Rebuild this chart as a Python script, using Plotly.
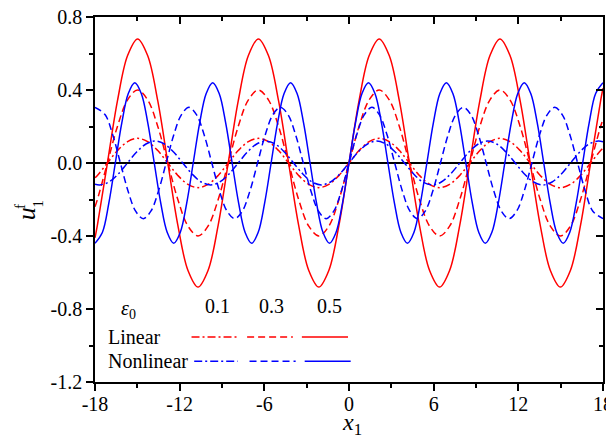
import plotly.graph_objects as go

# ---------------- data ----------------
# Linear solution (red); same abscissae for the three amplitudes
x_lin = [-18, -17.83, -17.12, -16.41, -15.69, -14.98, -14.27, -13.55, -12.84, -12.13,
         -11.41, -10.70, -9.99, -9.27, -8.56, -7.85, -7.13, -6.42, -5.71, -4.99, -4.28,
         -3.57, -2.85, -2.14, -1.43, -0.71, 0, 0.71, 1.43, 2.14, 2.85, 3.57, 4.28, 4.99,
         5.71, 6.42, 7.13, 7.85, 8.56, 9.27, 9.99, 10.70, 11.41, 12.13, 12.84, 13.55,
         14.27, 14.98, 15.69, 16.41, 17.12, 17.83, 18]
lin_05 = [-0.41,
          -0.34, 0, 0.34, 0.589, 0.68, 0.589, 0.34, 0, -0.34, -0.589, -0.68, -0.589,
          -0.34, 0, 0.34, 0.589, 0.68, 0.589, 0.34, 0, -0.34, -0.589, -0.68, -0.589,
          -0.34, 0, 0.34, 0.589, 0.68, 0.589, 0.34, 0, -0.34, -0.589, -0.68, -0.589,
          -0.34, 0, 0.34, 0.589, 0.68, 0.589, 0.34, 0, -0.34, -0.589, -0.68, -0.589,
          -0.34, 0, 0.34, 0.41]
lin_03 = [-0.24,
          -0.20, 0, 0.20, 0.346, 0.40, 0.346, 0.20, 0, -0.20, -0.346, -0.40, -0.346,
          -0.20, 0, 0.20, 0.346, 0.40, 0.346, 0.20, 0, -0.20, -0.346, -0.40, -0.346,
          -0.20, 0, 0.20, 0.346, 0.40, 0.346, 0.20, 0, -0.20, -0.346, -0.40, -0.346,
          -0.20, 0, 0.20, 0.346, 0.40, 0.346, 0.20, 0, -0.20, -0.346, -0.40, -0.346,
          -0.20, 0, 0.20, 0.24]
lin_01 = [-0.081,
          -0.068, 0, 0.068, 0.117, 0.135, 0.117, 0.068, 0, -0.068, -0.117, -0.135, -0.117,
          -0.068, 0, 0.068, 0.117, 0.135, 0.117, 0.068, 0, -0.068, -0.117, -0.135, -0.117,
          -0.068, 0, 0.068, 0.117, 0.135, 0.117, 0.068, 0, -0.068, -0.117, -0.135, -0.117,
          -0.068, 0, 0.068, 0.117, 0.135, 0.117, 0.068, 0, -0.068, -0.117, -0.135, -0.117,
          -0.068, 0, 0.068, 0.081]

# Nonlinear solution (blue), eps0 = 0.5
x_nl05 = [-18, -17.48, -17.02, -16.56, -16.10, -15.64, -15.18, -14.72, -14.26, -13.80,
          -13.34, -12.88, -12.42, -11.96, -11.50, -11.04, -10.58, -10.12, -9.66, -9.20,
          -8.74, -8.28, -7.82, -7.36, -6.90, -6.44, -5.98, -5.52, -5.06, -4.60, -4.14,
          -3.68, -3.22, -2.76, -2.30, -1.84, -1.38, -0.92, -0.46, 0, 0.46, 0.92, 1.38,
          1.84, 2.30, 2.76, 3.22, 3.68, 4.14, 4.60, 5.06, 5.52, 5.98, 6.44, 6.90, 7.36,
          7.82, 8.28, 8.74, 9.20, 9.66, 10.12, 10.58, 11.04, 11.50, 11.96, 12.42, 12.88,
          13.34, 13.80, 14.26, 14.72, 15.18, 15.64, 16.10, 16.56, 17.02, 17.48, 18]
nl_05 = [-0.44, -0.381, -0.22, 0, 0.22, 0.381, 0.44, 0.381, 0.22, 0, -0.22, -0.381,
         -0.44, -0.381, -0.22, 0, 0.22, 0.381, 0.44, 0.381, 0.22, 0, -0.22, -0.381,
         -0.44, -0.381, -0.22, 0, 0.22, 0.381, 0.44, 0.381, 0.22, 0, -0.22, -0.381,
         -0.44, -0.381, -0.22, 0, 0.22, 0.381, 0.44, 0.381, 0.22, 0, -0.22, -0.381,
         -0.44, -0.381, -0.22, 0, 0.22, 0.381, 0.44, 0.381, 0.22, 0, -0.22, -0.381,
         -0.44, -0.381, -0.22, 0, 0.22, 0.381, 0.44, 0.381, 0.22, 0, -0.22, -0.381,
         -0.44, -0.381, -0.22, 0, 0.22, 0.381, 0.44]

# Nonlinear, eps0 = 0.3
x_nl03 = [-18, -17.28, -16.74, -16.20, -15.66, -15.12, -14.58, -14.04, -13.50, -12.96,
          -12.42, -11.88, -11.34, -10.80, -10.26, -9.72, -9.18, -8.64, -8.10, -7.56,
          -7.02, -6.48, -5.94, -5.40, -4.86, -4.32, -3.78, -3.24, -2.70, -2.16, -1.62,
          -1.08, -0.54, 0, 0.54, 1.08, 1.62, 2.16, 2.70, 3.24, 3.78, 4.32, 4.86, 5.40,
          5.94, 6.48, 7.02, 7.56, 8.10, 8.64, 9.18, 9.72, 10.26, 10.80, 11.34, 11.88,
          12.42, 12.96, 13.50, 14.04, 14.58, 15.12, 15.66, 16.20, 16.74, 17.28, 18]
nl_03 = [0.305, 0.264, 0.153, 0, -0.153, -0.264, -0.305, -0.264, -0.153, 0, 0.153, 0.264,
         0.305, 0.264, 0.153, 0, -0.153, -0.264, -0.305, -0.264, -0.153, 0, 0.153, 0.264,
         0.305, 0.264, 0.153, 0, -0.153, -0.264, -0.305, -0.264, -0.153, 0, 0.153, 0.264,
         0.305, 0.264, 0.153, 0, -0.153, -0.264, -0.305, -0.264, -0.153, 0, 0.153, 0.264,
         0.305, 0.264, 0.153, 0, -0.153, -0.264, -0.305, -0.264, -0.153, 0, 0.153, 0.264,
         0.305, 0.264, 0.153, 0, -0.153, -0.264, -0.305]

# Nonlinear, eps0 = 0.1
x_nl01 = [-18, -17.66, -17.01, -16.35, -15.70, -15.05, -14.39, -13.74, -13.08, -12.43,
          -11.78, -11.12, -10.47, -9.81, -9.16, -8.50, -7.85, -7.20, -6.54, -5.89, -5.23,
          -4.58, -3.93, -3.27, -2.62, -1.96, -1.31, -0.65, 0, 0.65, 1.31, 1.96, 2.62, 3.27,
          3.93, 4.58, 5.23, 5.89, 6.54, 7.20, 7.85, 8.50, 9.16, 9.81, 10.47, 11.12, 11.78,
          12.43, 13.08, 13.74, 14.39, 15.05, 15.70, 16.35, 17.01, 17.66, 18]
nl_01 = [-0.116,
         -0.12, -0.104, -0.06, 0, 0.06, 0.104, 0.12, 0.104, 0.06, 0, -0.06, -0.104,
         -0.12, -0.104, -0.06, 0, 0.06, 0.104, 0.12, 0.104, 0.06, 0, -0.06, -0.104,
         -0.12, -0.104, -0.06, 0, 0.06, 0.104, 0.12, 0.104, 0.06, 0, -0.06, -0.104,
         -0.12, -0.104, -0.06, 0, 0.06, 0.104, 0.12, 0.104, 0.06, 0, -0.06, -0.104,
         -0.12, -0.104, -0.06, 0, 0.06, 0.104, 0.12,
         0.116]

# axis ticks
x_ticks = [-18, -12, -6, 0, 6, 12, 18]
x_labels = ["-18", "-12", "-6", "0", "6", "12", "18"]
y_ticks = [-1.2, -0.8, -0.4, 0.0, 0.4, 0.8]
y_labels = ["-1.2", "-0.8", "-0.4", "0.0", "0.4", "0.8"]

# in-plot legend
eps_labels = ["0.1", "0.3", "0.5"]
eps_label_x = [-9.33, -5.49, -1.35]
eps_label_y = -0.785
leg_lin_x = [[-11.16, -7.94], [-7.22, -3.98], [-3.34, -0.07]]
leg_lin_y = -0.954
leg_nl_x = [[-10.97, -7.89], [-7.05, -3.78], [-3.14, 0.12]]
leg_nl_y = -1.086

# ---------------- styles ----------------
RED = "#ff0000"
BLUE = "#0000ff"
DASHDOT = "8px,3px,2px,3px"
DASH = "7px,4px"
SOLID = "solid"
FONT = "Liberation Serif"
LW = 1.5

fig = go.Figure()

def add_curve(x, y, color, dash):
    fig.add_trace(go.Scatter(x=x, y=y, mode="lines", showlegend=False, hoverinfo="skip",
                             line=dict(color=color, width=LW, dash=dash, shape="spline",
                                       smoothing=1.0)))

add_curve(x_lin, lin_01, RED, DASHDOT)
add_curve(x_lin, lin_03, RED, DASH)
add_curve(x_lin, lin_05, RED, SOLID)
add_curve(x_nl01, nl_01, BLUE, DASHDOT)
add_curve(x_nl03, nl_03, BLUE, DASH)
add_curve(x_nl05, nl_05, BLUE, SOLID)

# legend sample lines
for seg, dash in zip(leg_lin_x, [DASHDOT, DASH, SOLID]):
    fig.add_trace(go.Scatter(x=seg, y=[leg_lin_y, leg_lin_y], mode="lines", showlegend=False,
                             hoverinfo="skip", line=dict(color=RED, width=LW, dash=dash)))
for seg, dash in zip(leg_nl_x, [DASHDOT, DASH, SOLID]):
    fig.add_trace(go.Scatter(x=seg, y=[leg_nl_y, leg_nl_y], mode="lines", showlegend=False,
                             hoverinfo="skip", line=dict(color=BLUE, width=LW, dash=dash)))

# dummy trace for the mirrored (top/right) axes with inward ticks
fig.add_trace(go.Scatter(x=[None], y=[None], xaxis="x2", yaxis="y2", showlegend=False,
                         hoverinfo="skip"))

tickfont = dict(family=FONT, size=20, color="black")
annfont = dict(family=FONT, size=20, color="black")

annotations = []
annotations.append(dict(x=-15.6, y=-0.80, xref="x", yref="y", text="<i>ε</i><sub>0</sub>",
                        xanchor="center", yanchor="middle",
                        showarrow=False, font=dict(family=FONT, size=20, color="black")))
for lab, lx in zip(eps_labels, eps_label_x):
    annotations.append(dict(x=lx, y=eps_label_y, xref="x", yref="y", text=lab,
                            xanchor="center", yanchor="middle",
                            showarrow=False, font=annfont))
annotations.append(dict(x=-17.25, y=leg_lin_y, xref="x", yref="y", text="Linear",
                        xanchor="left", yanchor="middle", showarrow=False, font=annfont))
annotations.append(dict(x=-17.25, y=leg_nl_y, xref="x", yref="y", text="Nonlinear",
                        xanchor="left", yanchor="middle", showarrow=False, font=annfont))
# axis titles (paper coordinates relative to the plot area)
annotations.append(dict(x=0.506, y=-0.115, xref="paper", yref="paper",
                        xanchor="center", yanchor="middle",
                        text="<i>x</i><sub>1</sub>", showarrow=False,
                        font=dict(family=FONT, size=24, color="black")))
annotations.append(dict(x=-0.136, y=0.462, xref="paper", yref="paper", text="<i>u</i>",
                        xanchor="center", yanchor="middle",
                        textangle=-90, showarrow=False,
                        font=dict(family=FONT, size=26, color="black")))
annotations.append(dict(x=-0.148, y=0.482, xref="paper", yref="paper", text="f",
                        xanchor="center", yanchor="middle",
                        textangle=-90, showarrow=False,
                        font=dict(family=FONT, size=15, color="black")))
annotations.append(dict(x=-0.113, y=0.488, xref="paper", yref="paper", text="1",
                        xanchor="center", yanchor="middle",
                        textangle=-90, showarrow=False,
                        font=dict(family=FONT, size=15, color="black")))

common_minor = dict(ticklen=4, tickwidth=1.5, tickcolor="black", showgrid=False)

# the page body adds an 8 px margin, so the figure is 8 px smaller in both directions
fig.update_layout(
    width=606, height=430,
    margin=dict(l=87, r=11, t=9, b=56, autoexpand=False),
    paper_bgcolor="white", plot_bgcolor="white",
    annotations=annotations,
    xaxis=dict(range=[-18, 18], tickvals=x_ticks, ticktext=x_labels, ticks="outside",
               ticklen=7, tickwidth=1.5, tickcolor="black", showline=True, linecolor="black",
               linewidth=1.5, showgrid=False, zeroline=False, tickfont=tickfont,
               automargin=False, ticklabeloverflow="allow", ticklabelstandoff=-4,
               minor=dict(dtick=3, tick0=-18, ticks="outside", **common_minor)),
    yaxis=dict(range=[-1.2, 0.8], tickvals=y_ticks, ticktext=y_labels, ticks="outside",
               ticklen=7, tickwidth=1.5, tickcolor="black", showline=True, linecolor="black",
               linewidth=1.5, showgrid=False, zeroline=True, zerolinecolor="black",
               zerolinewidth=1.5, tickfont=tickfont, automargin=False,
               ticklabeloverflow="allow",
               minor=dict(dtick=0.2, tick0=-1.2, ticks="outside", **common_minor)),
    xaxis2=dict(range=[-18, 18], overlaying="x", side="top", tickvals=x_ticks, ticks="inside",
                ticklen=7, tickwidth=1.5, tickcolor="black", showticklabels=False,
                showline=True, linecolor="black", linewidth=1.5, showgrid=False,
                zeroline=False, automargin=False,
                minor=dict(dtick=3, tick0=-18, ticks="inside", **common_minor)),
    yaxis2=dict(range=[-1.2, 0.8], overlaying="y", side="right", tickvals=y_ticks,
                ticks="inside", ticklen=7, tickwidth=1.5, tickcolor="black",
                showticklabels=False, showline=True, linecolor="black", linewidth=1.5,
                showgrid=False, zeroline=False, automargin=False,
                minor=dict(dtick=0.2, tick0=-1.2, ticks="inside", **common_minor)),
)

fig.write_html("out.html")
